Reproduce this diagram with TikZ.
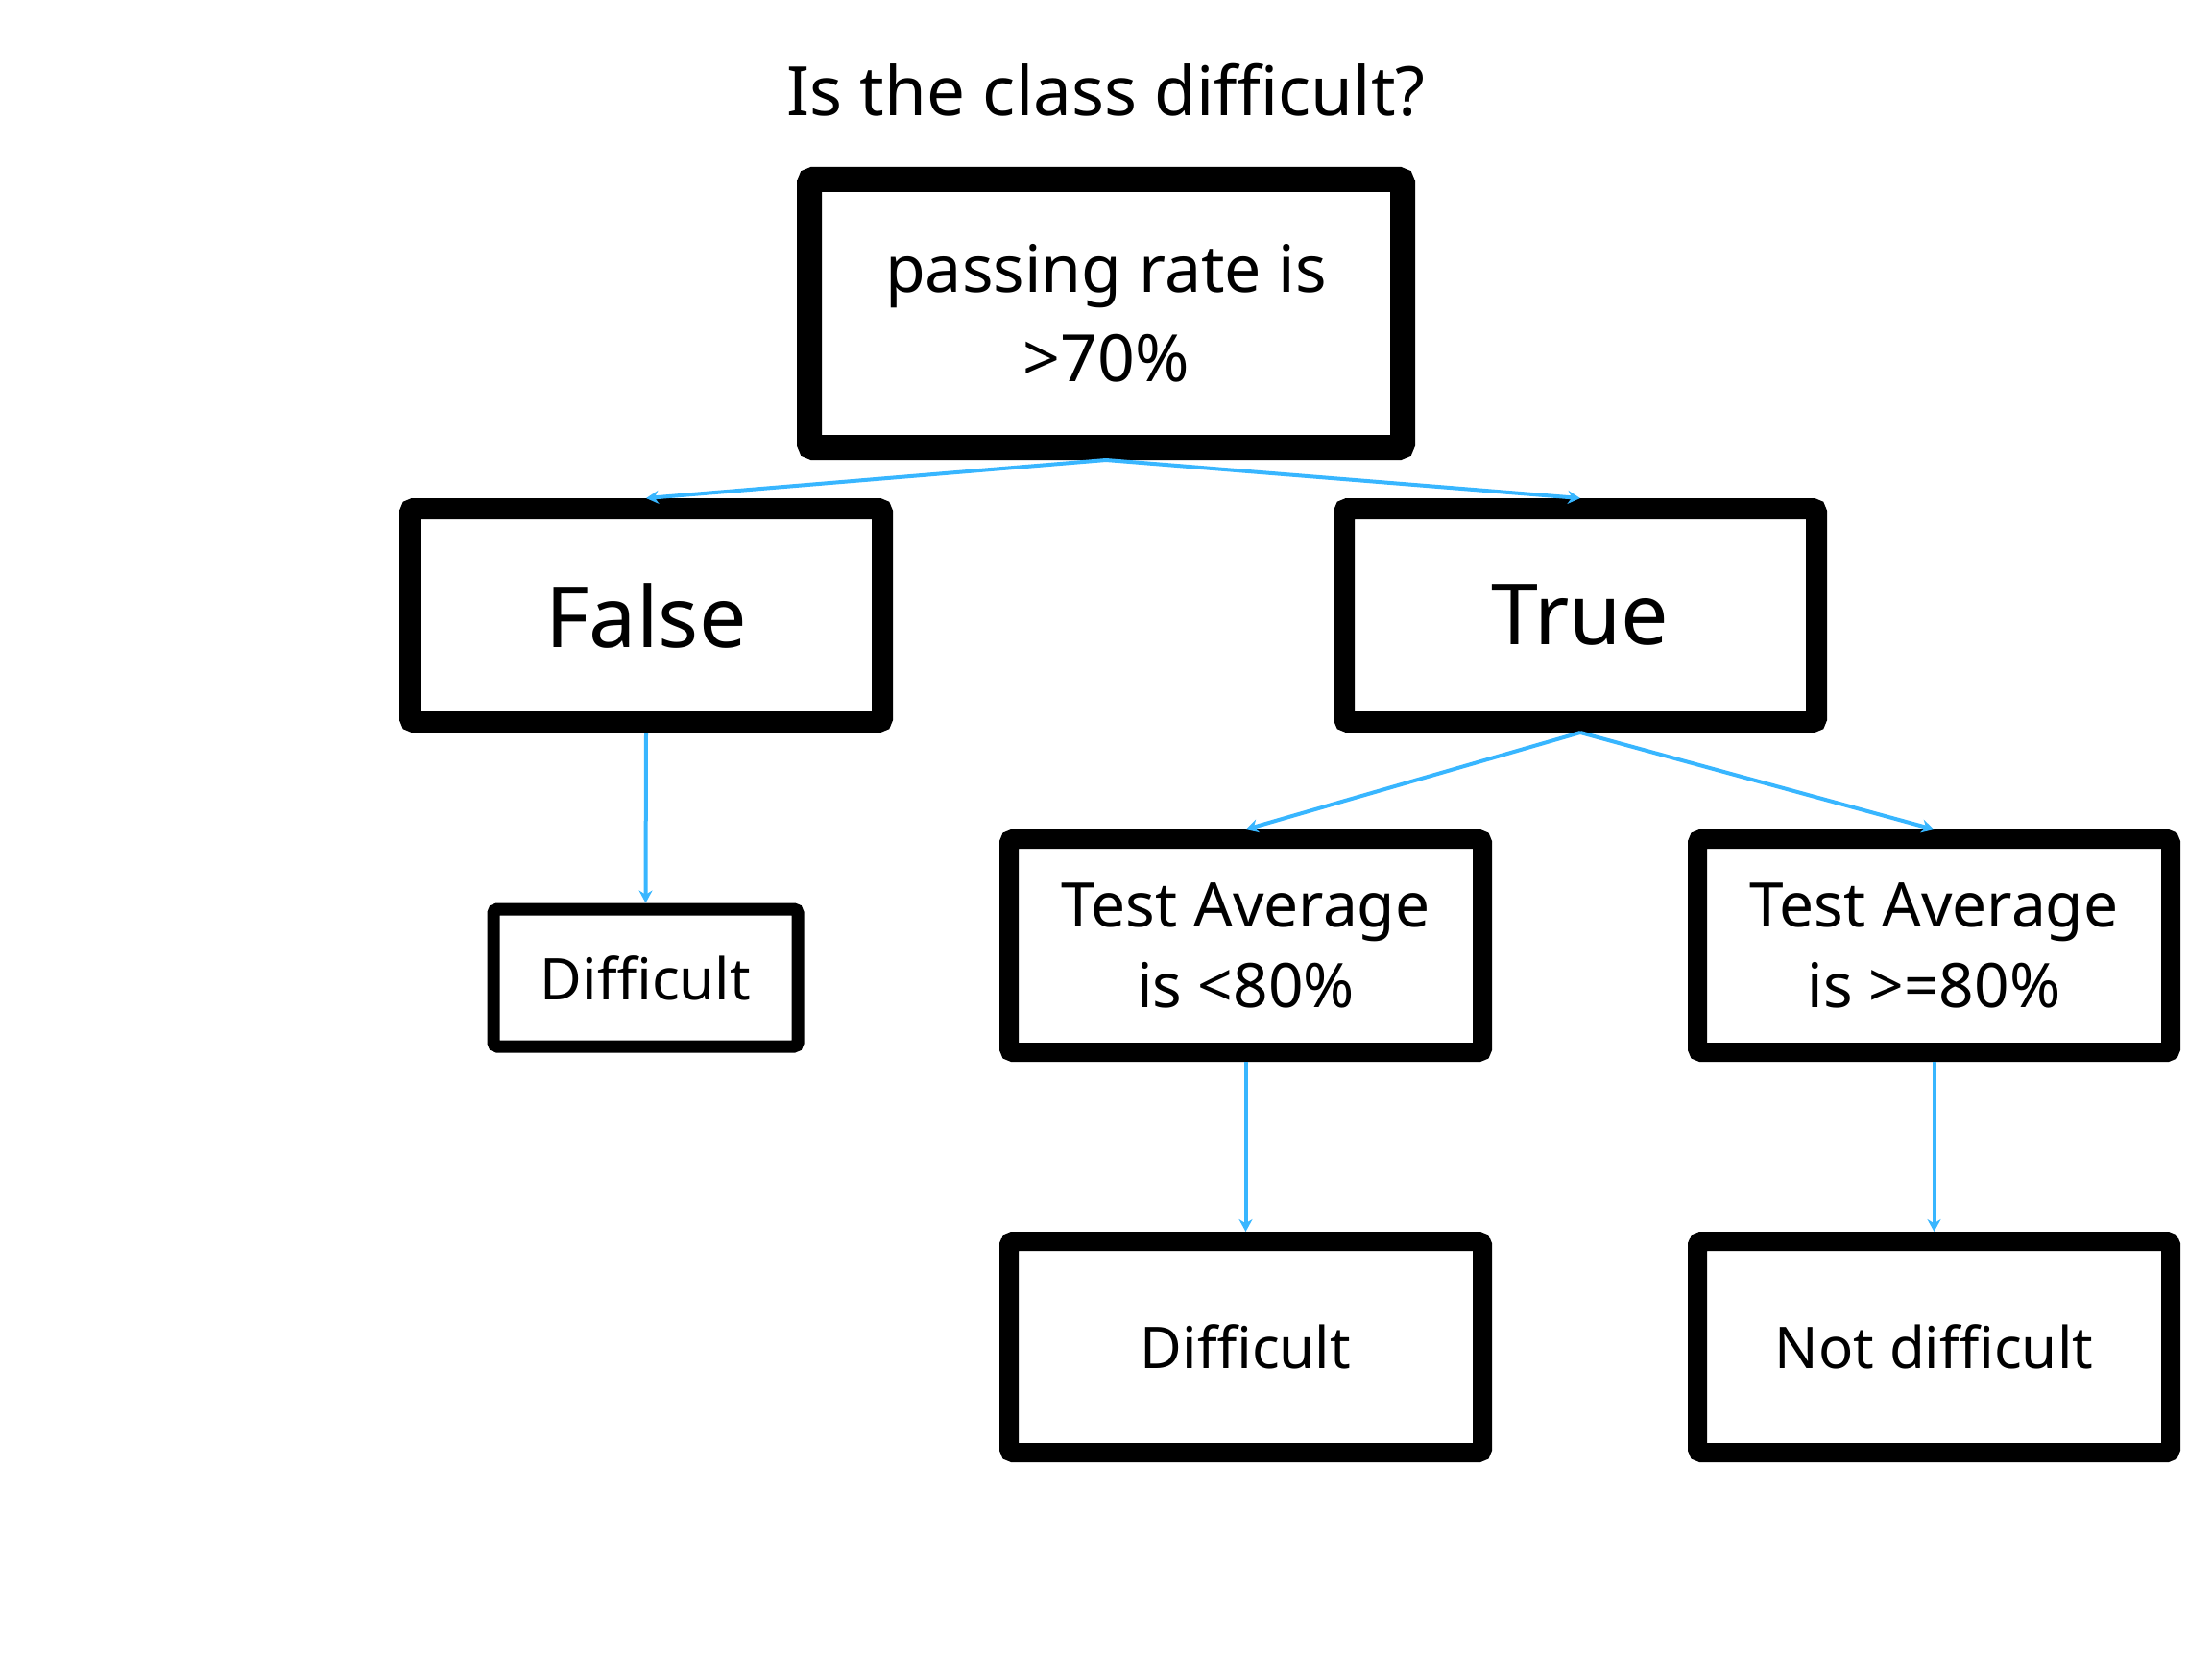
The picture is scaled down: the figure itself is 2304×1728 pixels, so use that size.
\documentclass[tikz,border=0pt]{standalone}
\usepackage{fontspec}
\setmainfont{Noto Sans}
\usetikzlibrary{arrows.meta}
\definecolor{arrowblue}{HTML}{38B6FF}
\tikzset{
  box/.style={draw=black, rounded corners=4pt, inner sep=0pt, align=center, fill=white},
  conn/.style={draw=arrowblue, line width=4pt, -{Stealth[length=13pt,width=14pt]}},
}
\begin{document}
\begin{tikzpicture}[x=1pt,y=-1pt]
\useasboundingbox (0,0) rectangle (2304,1728);
\node[font=\fontsize{71}{86}\selectfont] (title) at (1152,94) {Is the class difficult?};
\node[box, line width=26pt, minimum width=618pt, minimum height=279pt, font=\fontsize{68}{93}\selectfont] (top) at (1152,326.5) {passing rate is\\>70\%};
\node[box, line width=22pt, minimum width=492pt, minimum height=222pt, font=\fontsize{88}{100}\selectfont] (false) at (673,641) {False};
\node[box, line width=22pt, minimum width=492pt, minimum height=222pt, font=\fontsize{88}{100}\selectfont] (true) at (1646,641) {True};
\node[box, line width=13pt, minimum width=317pt, minimum height=143pt, font=\fontsize{60}{72}\selectfont] (diff1) at (672.5,1018.5) {Difficult};
\node[box, line width=20pt, minimum width=493pt, minimum height=222pt, font=\fontsize{64}{84}\selectfont] (ta1) at (1297.5,985) {Test Average\\is <80\%};
\node[box, line width=20pt, minimum width=493pt, minimum height=222pt, font=\fontsize{64}{84}\selectfont] (ta2) at (2014.5,985) {Test Average\\is >=80\%};
\node[box, line width=20pt, minimum width=493pt, minimum height=220pt, font=\fontsize{60}{72}\selectfont] (diff2) at (1297.5,1403) {Difficult};
\node[box, line width=20pt, minimum width=493pt, minimum height=220pt, font=\fontsize{60}{72}\selectfont] (nd) at (2014.5,1403) {Not difficult};
\draw[conn] (top.south) -- (false.north);
\draw[conn] (top.south) -- (true.north);
\draw[conn] (false.south) -- (diff1.north);
\draw[conn] (true.south) -- (ta1.north);
\draw[conn] (true.south) -- (ta2.north);
\draw[conn] (ta1.south) -- (diff2.north);
\draw[conn] (ta2.south) -- (nd.north);
\end{tikzpicture}
\end{document}
